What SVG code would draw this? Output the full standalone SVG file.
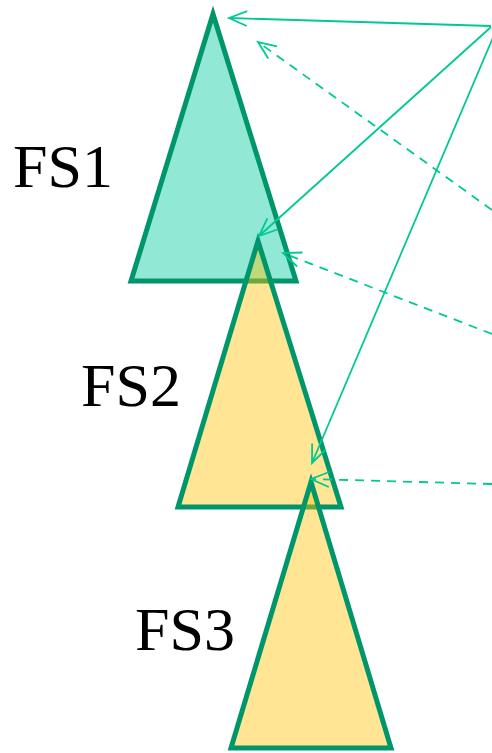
<svg xmlns="http://www.w3.org/2000/svg" width="492" height="753" viewBox="0 0 492 753">
<defs>
<style>
.tri{stroke:#00966B;stroke-width:5;stroke-linejoin:miter;stroke-miterlimit:10}
.fs1{fill:#90E8D5}
.fsy{fill:#FFC000;fill-opacity:0.42}
.lbl{font-family:'Liberation Serif',serif;font-size:62px;fill:#000}
.con{fill:none;stroke:#00C896;stroke-width:1.8}
.dash{stroke-dasharray:9 7}
</style>
<marker id="ah" viewBox="-20 -10 22 20" refX="0" refY="0" markerWidth="22" markerHeight="20" markerUnits="userSpaceOnUse" orient="auto" overflow="visible">
<path d="M-18,-7.5 L0,0 L-18,7.5" fill="none" stroke="#00C896" stroke-width="1.8"/>
</marker>
</defs>
<rect width="492" height="753" fill="#FFFFFF"/>
<g id="fs1">
<polygon points="213,14 131,281 296,281" class="tri fs1"/>
<text x="13" y="187" class="lbl">FS1</text>
</g>
<g id="fs2">
<polygon points="258,241 178,507 341,507" class="tri fsy"/>
<text x="81" y="406" class="lbl">FS2</text>
</g>
<g id="fs3">
<polygon points="311,482 231,748 391,748" class="tri fsy"/>
<text x="135" y="650" class="lbl">FS3</text>
</g>
<g id="connectors">
<path class="con" d="M491,26 L229,18" marker-end="url(#ah)"/>
<path class="con" d="M491,27 L259,236" marker-end="url(#ah)"/>
<path class="con" d="M497,28 L312,463" marker-end="url(#ah)"/>
<path class="con dash" d="M492,210 L258,42" marker-end="url(#ah)"/>
<path class="con dash" d="M492,334 L283,253" marker-end="url(#ah)"/>
<path class="con dash" d="M492,484 L311,479" marker-end="url(#ah)"/>
</g>
</svg>
